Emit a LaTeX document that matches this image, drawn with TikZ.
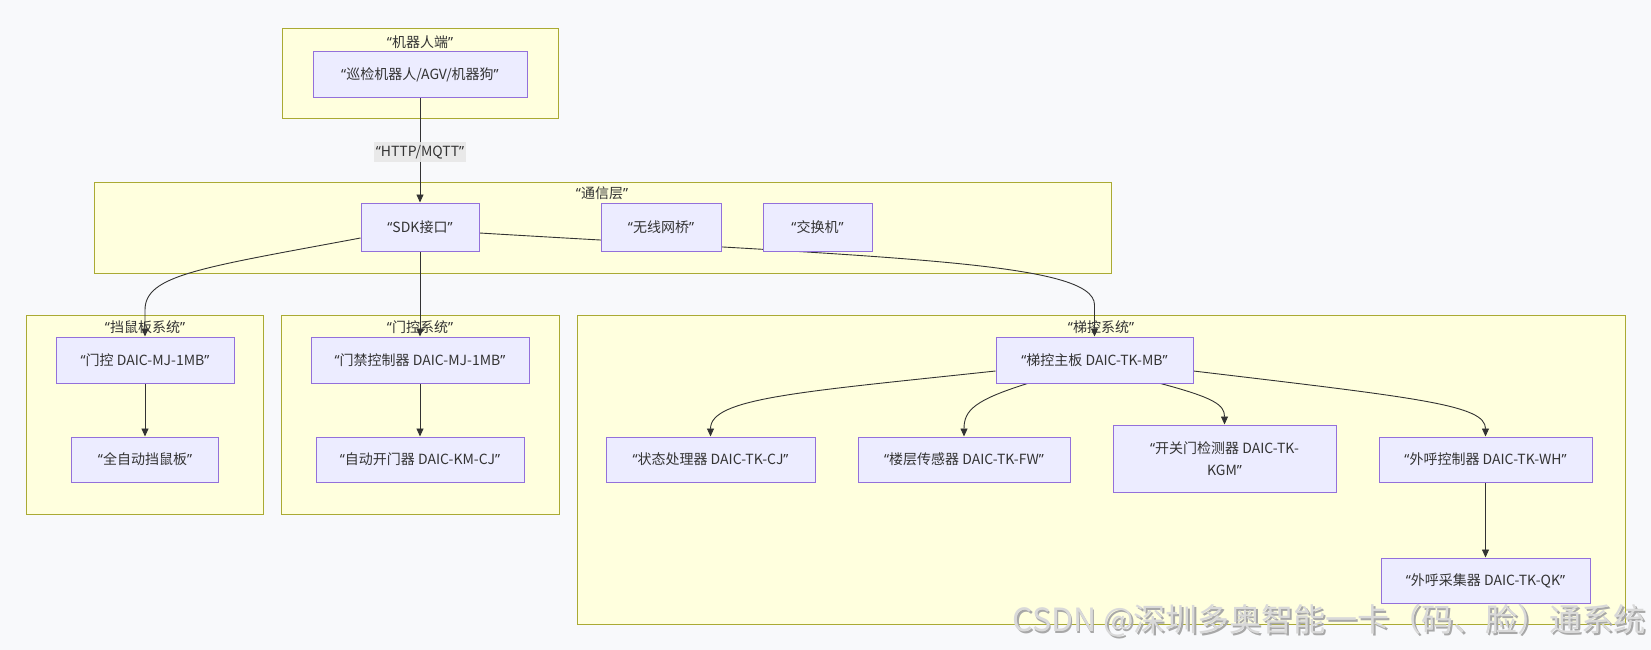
\documentclass[tikz,border=0pt]{standalone}
\usepackage{fontspec}
\setmainfont{Noto Sans CJK SC}
\newfontfamily\latq{Noto Sans}
\usetikzlibrary{arrows.meta}
\definecolor{bgc}{HTML}{F8F9FB}
\definecolor{clfill}{HTML}{FFFFDE}
\definecolor{cldraw}{HTML}{AAAA33}
\definecolor{ndfill}{HTML}{ECECFF}
\definecolor{nddraw}{HTML}{9370DB}
\definecolor{edgec}{HTML}{333333}
\definecolor{lblbg}{HTML}{E8E8E8}
\definecolor{wmark}{HTML}{D9D9D9}
\definecolor{wshadow}{HTML}{A8A8A8}
\newcommand{\mq}[1]{{\latq “}#1{\latq ”}}
\pgfdeclarelayer{backdrop}
\pgfdeclarelayer{clusters}
\pgfdeclarelayer{edges}
\pgfsetlayers{backdrop,clusters,edges,main}
\tikzset{
  cluster/.style={draw=cldraw, fill=clfill, line width=1pt},
  cltitle/.style={inner sep=0pt, text=edgec},
  box/.style={draw=nddraw, fill=ndfill, line width=1pt, rectangle, inner sep=0pt, align=center, text=edgec},
  conn/.style={draw=edgec, line width=0.9pt, -{Triangle[length=8pt,width=7pt]}},
  wmstyle/.style={anchor=east, inner sep=0pt, font=\fontsize{32}{32}\selectfont},
}
\begin{document}
\begin{tikzpicture}[x=1pt,y=-1pt,font=\fontsize{14}{22}\selectfont]
\useasboundingbox (0,0) rectangle (1651,650);
\begin{pgfonlayer}{backdrop}
\fill[bgc] (0,0) rectangle (1651,650);
\end{pgfonlayer}

% clusters
\begin{pgfonlayer}{clusters}
\path[cluster] (282,29) rectangle (558,119);
\path[cluster] (94,182) rectangle (1111,273);
\path[cluster] (26,315) rectangle (263,514);
\path[cluster] (281,315) rectangle (559,514);
\path[cluster] (577,315) rectangle (1625,624);
\end{pgfonlayer}
\node[cltitle] (tRobot) at (420,42) {\mq{机器人端}};
\node[cltitle] (tComm) at (602,193) {\mq{通信层}};
\node[cltitle] (tRat) at (145,327) {\mq{挡鼠板系统}};
\node[cltitle] (tDoor) at (420,327) {\mq{门控系统}};
\node[cltitle] (tLift) at (1101,327) {\mq{梯控系统}};

% nodes
\node[box, minimum width=214pt, minimum height=46pt] (robot) at (420,75) {\mq{巡检机器人/AGV/机器狗}};
\node[box, minimum width=118pt, minimum height=48pt] (sdk) at (420,227) {\mq{SDK接口}};
\node[box, minimum width=120pt, minimum height=48pt] (bridge) at (661,227) {\mq{无线网桥}};
\node[box, minimum width=109pt, minimum height=48pt] (switch) at (817.5,227) {\mq{交换机}};
\node[box, minimum width=178pt, minimum height=46pt] (mja) at (145,360) {\mq{门控 DAIC-MJ-1MB}};
\node[box, minimum width=147pt, minimum height=45pt] (rat) at (145,459.5) {\mq{全自动挡鼠板}};
\node[box, minimum width=218pt, minimum height=46pt] (mjb) at (420,360) {\mq{门禁控制器 DAIC-MJ-1MB}};
\node[box, minimum width=208pt, minimum height=45pt] (km) at (420,459.5) {\mq{自动开门器 DAIC-KM-CJ}};
\node[box, minimum width=197pt, minimum height=46pt] (tkmb) at (1094.5,360) {\mq{梯控主板 DAIC-TK-MB}};
\node[box, minimum width=209pt, minimum height=45pt] (cj) at (710.5,459.5) {\mq{状态处理器 DAIC-TK-CJ}};
\node[box, minimum width=212pt, minimum height=45pt] (fw) at (964,459.5) {\mq{楼层传感器 DAIC-TK-FW}};
\node[box, minimum width=223pt, minimum height=67pt] (kgm) at (1224.5,458.5) {{\latq “}开关门检测器 DAIC-TK-\\KGM{\latq ”}};
\node[box, minimum width=213pt, minimum height=45pt] (wh) at (1485.5,459.5) {\mq{外呼控制器 DAIC-TK-WH}};
\node[box, minimum width=209pt, minimum height=45pt] (qk) at (1485.5,580.5) {\mq{外呼采集器 DAIC-TK-QK}};

% edge label
\node[fill=lblbg, fill opacity=0.9, text opacity=1, text=edgec, inner xsep=2pt, inner ysep=3pt] (lbl) at (420,152) {\mq{HTTP/MQTT}};

% edges
\begin{pgfonlayer}{edges}
\draw[conn] (robot.south) -- (sdk.north);
\draw[conn] (sdk.south) -- (mjb.north);
\draw[conn] ([yshift=-11pt]sdk.west) .. controls (200,268) and (145,275) .. (145,310) -- (mja.north);
\draw[conn] ([yshift=-6pt]sdk.east) .. controls (900,258) and (1094.5,262) .. (1094.5,305) -- (tkmb.north);
\draw[conn] (mja.south) -- (rat.north);
\draw[conn] (mjb.south) -- (km.north);
\draw[conn] ([yshift=-11pt]tkmb.west) .. controls (800,392) and (710.5,398) .. (cj.north);
\draw[conn] ([xshift=-67pt]tkmb.south) .. controls (975,400) and (964,410) .. (fw.north);
\draw[conn] ([xshift=66pt]tkmb.south) .. controls (1215,398) and (1224.5,405) .. (kgm.north);
\draw[conn] ([yshift=-11pt]tkmb.east) .. controls (1420,398) and (1485.5,405) .. (wh.north);
\draw[conn] (wh.south) -- (qk.north);
\end{pgfonlayer}

% watermark (with its soft shadow)
\node[wmstyle, text=wshadow] (wmshadow) at (1647.5,622.5) {CSDN @深圳多奥智能一卡（码、脸）通系统};
\node[wmstyle, text=wmark] (wm) at (1646,621) {CSDN @深圳多奥智能一卡（码、脸）通系统};
\end{tikzpicture}
\end{document}
